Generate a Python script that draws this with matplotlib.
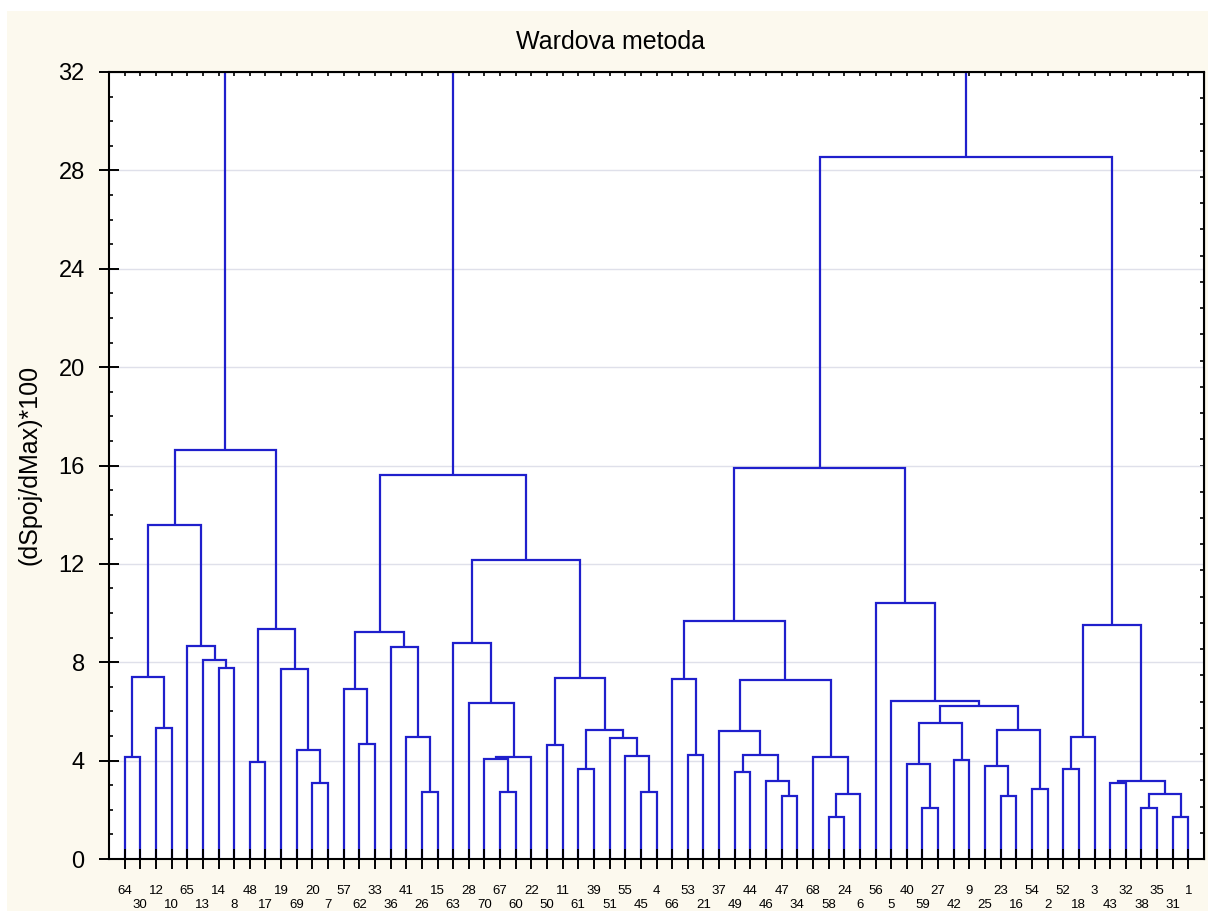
import matplotlib
matplotlib.use('Agg')
import matplotlib.pyplot as plt
import numpy as np
from matplotlib.patches import Rectangle
from matplotlib.ticker import MultipleLocator

plt.rcParams['font.family'] = ['Liberation Sans', 'DejaVu Sans']

# objects in the order they sit on the x axis
leaves = [64, 30, 12, 10, 65, 13, 14, 8, 48, 17, 19, 69, 20, 7,
          57, 62, 33, 36, 41, 26, 15, 63, 28, 70, 67, 60, 22, 50,
          11, 61, 39, 51, 55, 45, 4, 66, 53, 21, 37, 49, 44, 46,
          47, 34, 68, 58, 24, 6, 56, 5, 40, 59, 27, 42, 9, 25,
          23, 16, 54, 2, 52, 18, 3, 43, 32, 38, 35, 31, 1]

# merges: (name, left, right, linkage distance)
# ints are objects, strings point to an earlier merge
group_a = [
    ('a1', 64, 30, 4.15), ('a2', 12, 10, 5.34), ('a3', 'a1', 'a2', 7.42),
    ('a4', 14, 8, 7.76), ('a5', 13, 'a4', 8.08), ('a6', 65, 'a5', 8.68),
    ('a7', 'a3', 'a6', 13.6),
    ('a8', 48, 17, 3.96), ('a9', 20, 7, 3.10), ('a10', 69, 'a9', 4.44),
    ('a11', 19, 'a10', 7.74), ('a12', 'a8', 'a11', 9.35),
    ('a13', 'a7', 'a12', 16.65),
]
group_b = [
    ('b1', 62, 33, 4.67), ('b2', 57, 'b1', 6.9),
    ('b3', 26, 15, 2.73), ('b4', 41, 'b3', 4.97), ('b5', 36, 'b4', 8.6),
    ('b6', 'b2', 'b5', 9.21),
    ('b7', 67, 60, 2.73), ('b8', 70, 'b7', 4.08), ('b9', 'b8', 22, 4.15),
    ('b10', 28, 'b9', 6.33), ('b11', 63, 'b10', 8.78),
    ('b12', 50, 11, 4.65), ('b13', 61, 39, 3.65), ('b14', 45, 4, 2.73),
    ('b15', 55, 'b14', 4.18), ('b16', 51, 'b15', 4.91),
    ('b17', 'b13', 'b16', 5.25), ('b18', 'b12', 'b17', 7.34),
    ('b19', 'b11', 'b18', 12.15), ('b20', 'b6', 'b19', 15.63),
]
group_c = [
    ('c1', 53, 21, 4.23), ('c2', 66, 'c1', 7.31),
    ('c3', 49, 44, 3.55), ('c4', 47, 34, 2.57), ('c5', 46, 'c4', 3.18),
    ('c6', 'c3', 'c5', 4.24), ('c7', 37, 'c6', 5.21),
    ('c8', 58, 24, 1.70), ('c9', 'c8', 6, 2.66), ('c10', 68, 'c9', 4.15),
    ('c11', 'c7', 'c10', 7.26), ('c12', 'c2', 'c11', 9.66),
    ('c13', 59, 27, 2.08), ('c14', 40, 'c13', 3.88), ('c15', 42, 9, 4.04),
    ('c16', 'c14', 'c15', 5.52), ('c17', 23, 16, 2.57),
    ('c18', 25, 'c17', 3.77), ('c19', 54, 2, 2.83),
    ('c20', 'c18', 'c19', 5.24), ('c21', 'c16', 'c20', 6.23),
    ('c22', 5, 'c21', 6.43), ('c23', 56, 'c22', 10.4),
    ('c24', 'c12', 'c23', 15.88),
    ('c25', 52, 18, 3.65), ('c26', 'c25', 3, 4.98),
    ('c27', 43, 32, 3.10), ('c28', 38, 35, 2.08), ('c29', 31, 1, 1.70),
    ('c30', 'c28', 'c29', 2.63), ('c31', 'c27', 'c30', 3.16),
    ('c32', 'c26', 'c31', 9.53), ('c33', 'c24', 'c32', 28.54),
]
# last two joins sit above the plotted range
top_joins = [('r1', 'a13', 'b20', 38.0), ('r2', 'r1', 'c33', 46.0)]

blue = '#1f1fcc'
cream = '#fcf9ee'

fig = plt.figure(figsize=(12.08, 9.11), dpi=100, facecolor='white')
fig.add_artist(Rectangle((7 / 1208, 0), 1, 1 - 11 / 911, transform=fig.transFigure,
                         facecolor=cream, edgecolor='none', zorder=-5))
ax = fig.add_axes([109 / 1208, 52 / 911, 1095 / 1208, 787 / 911])
ax.set_facecolor('white')

pos = {lab: i for i, lab in enumerate(leaves)}
nodes = {}


def where(k):
    if isinstance(k, str):
        return nodes[k]
    return pos[k], 0.0


for name, l, r, h in group_a + group_b + group_c + top_joins:
    xl, hl = where(l)
    xr, hr = where(r)
    ax.plot([xl, xl, xr, xr], [hl, h, h, hr], color=blue, lw=1.6,
            solid_joinstyle='miter', solid_capstyle='butt', zorder=2)
    nodes[name] = ((xl + xr) / 2, h)

n = len(leaves)
ax.set_xlim(-1, n)
ax.set_ylim(0, 32)

# light horizontal grid at the labelled heights
for y in np.arange(4, 32, 4):
    ax.axhline(y, color='#dfe0ea', lw=1, zorder=1)

ax.set_axisbelow(False)
for s in ax.spines.values():
    s.set_linewidth(1.5)
    s.set_zorder(3)

ax.set_yticks(np.arange(0, 33, 4))
ax.yaxis.set_minor_locator(MultipleLocator(1))
ax.tick_params(axis='y', which='major', direction='inout', length=15, width=1.4,
               labelsize=17, pad=10)
ax.tick_params(axis='y', which='minor', direction='in', length=3, width=1.2)

# staggered object labels
ax.set_xticks(range(n))
ax.set_xticklabels([str(v) if i % 2 == 0 else '\n' + str(v) for i, v in enumerate(leaves)],
                   fontsize=9.5, linespacing=1.25)
ax.tick_params(axis='x', which='major', direction='inout', length=15, width=1.4, pad=11)

top = ax.secondary_xaxis('top')
top.set_xticks(range(n))
top.tick_params(direction='in', length=3, width=1.2, labeltop=False)

right = ax.secondary_yaxis('right', functions=(lambda y: y * 30 / 32, lambda y: y * 32 / 30))
right.set_yticks(range(31))
right.tick_params(direction='in', length=3, width=1.2, labelright=False)

fig.text(611 / 1208, 1 - 42 / 911, 'Wardova metoda', ha='center', va='center', fontsize=18)
fig.text(30 / 1208, 1 - 465 / 911, '(dSpoj/dMax)*100', ha='center', va='center',
         rotation=90, fontsize=18)

fig.savefig('out.png', dpi=100, facecolor=fig.get_facecolor())
